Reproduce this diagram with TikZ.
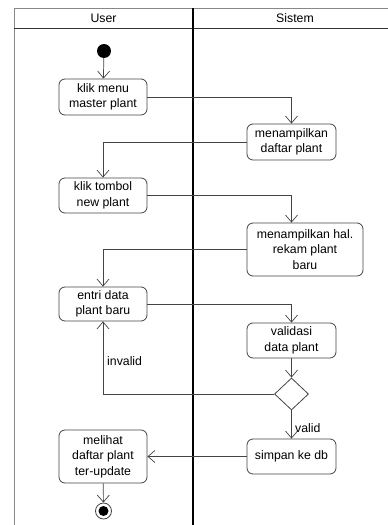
\documentclass[tikz,border=0pt]{standalone}
\usepackage{fontspec}
\setmainfont{Liberation Sans}
\usetikzlibrary{arrows.meta,shapes.geometric}
\definecolor{edge}{HTML}{444444}
\definecolor{frame}{HTML}{888888}
\begin{document}
\begin{tikzpicture}[x=1pt,y=-1pt,
  act/.style={draw=edge,line width=0.8pt,rounded corners=6pt,fill=white,align=center,
    inner sep=0pt,font=\fontsize{12.3}{15.5}\selectfont},
  flow/.style={draw=edge,line width=0.7pt,-{Straight Barb[length=7pt,width=12pt,line width=0.7pt]}},
  lbl/.style={font=\fontsize{12.3}{15}\selectfont,inner sep=0pt}]
\useasboundingbox (0,0) rectangle (388,525);
% swimlanes
\draw[frame,line width=1pt] (14,525) -- (14,8) -- (388,8);
\draw[black!80,line width=0.8pt] (14,28) -- (388,28);
\draw[black,line width=1.5pt] (193,8) -- (193,525);
\node[lbl] (hu) at (103.5,18.5) {User};
\node[lbl] (hs) at (295,18.5) {Sistem};
% nodes
\node[circle,fill=black,inner sep=0pt,minimum size=14pt] (start) at (104,51) {};
\node[act,minimum width=88pt,minimum height=36pt] (km) at (103,97) {klik menu\\master plant};
\node[act,minimum width=89pt,minimum height=36pt] (mdp) at (291.5,142) {menampilkan\\daftar plant};
\node[act,minimum width=88pt,minimum height=35pt] (kt) at (103,195.5) {klik tombol\\new plant};
\node[act,minimum width=116pt,minimum height=53pt] (hal) at (305,249.5) {menampilkan hal.\\rekam plant\\baru};
\node[act,minimum width=88pt,minimum height=34pt] (en) at (103,304) {entri data\\plant baru};
\node[act,minimum width=89pt,minimum height=35pt] (val) at (291.5,340.5) {validasi\\data plant};
\node[diamond,draw=edge,line width=0.8pt,fill=white,minimum width=34pt,minimum height=32pt,inner sep=0pt] (dia) at (291.5,394) {};
\node[act,minimum width=89pt,minimum height=35pt] (sim) at (291.5,456.5) {simpan ke db};
\node[act,minimum width=88pt,minimum height=53pt] (mel) at (103,456.5) {melihat\\daftar plant\\ter-update};
\node[circle,draw=edge,line width=0.8pt,fill=white,inner sep=0pt,minimum size=16pt] (end) at (103.5,511) {};
\node[circle,fill=black,inner sep=0pt,minimum size=10pt] (endin) at (end.center) {};
% connectors
\draw[flow] (start) -- (km);
\draw[flow] (km.east) -| (mdp.north);
\draw[flow] (mdp.west) -| (kt.north);
\draw[flow] (kt.east) -| (hal.north -| mdp.north);
\draw[flow] (hal.west) -| (en.north);
\draw[flow] (en.east) -| (val.north);
\draw[flow] (val) -- (dia);
\draw[flow] (dia.west) -| (en.south);
\node[lbl,anchor=west] (linv) at (107,361) {invalid};
\draw[flow] (dia) -- (sim);
\node[lbl,anchor=west] (lval) at (295,428) {valid};
\draw[flow] (sim) -- (mel);
\draw[flow] (mel) -- (end);
\end{tikzpicture}
\end{document}
